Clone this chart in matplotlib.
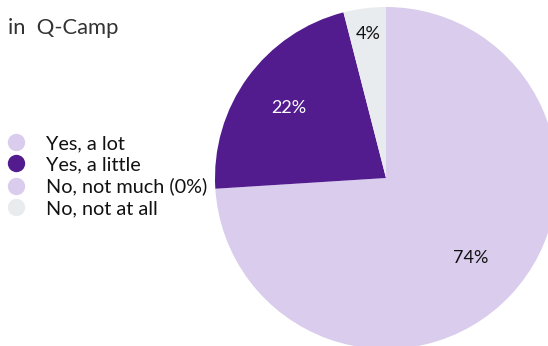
import numpy as np
import matplotlib.pyplot as plt
from matplotlib.lines import Line2D

plt.rcParams['font.family'] = ['Lato', 'DejaVu Sans']

# Data
labels = ['Yes, a lot', 'Yes, a little', 'No, not much (0%)', 'No, not at all']
values = [74, 22, 0, 4]
colors = ['#d9ccec', '#521c8f', '#d9ccec', '#e9ecef']
pct_colors = ['#111111', 'white', '#111111', '#111111']
pct_dist = [0.68, 0.70, 0.7, 0.85]

fig = plt.figure(figsize=(5.48, 3.46), dpi=100)
# pie centre at (386,178) px, radius ~171 px
ax = fig.add_axes([(386 - 171) / 548, (346 - 178 - 171) / 346, 342 / 548, 342 / 346])

wedges, _ = ax.pie(values, colors=colors, startangle=90, counterclock=False,
                   radius=1, wedgeprops=dict(linewidth=0))
ax.set_xlim(-1, 1)
ax.set_ylim(-1, 1)
ax.set_aspect('equal')
ax.axis('off')

for w, v, c, d in zip(wedges, values, pct_colors, pct_dist):
    if v == 0:
        continue
    ang = np.deg2rad((w.theta1 + w.theta2) / 2)
    ax.text(d * np.cos(ang), d * np.sin(ang), f'{v}%', ha='center', va='center',
            fontsize=13, color=c)

fig.text(8 / 548, 1 - 28 / 346, 'in  Q-Camp', fontsize=15.8, color='#333333',
         ha='left', va='center')

handles = [Line2D([], [], marker='o', linestyle='none', markersize=12.5,
                  markerfacecolor=c, markeredgewidth=0) for c in colors]
fig.legend(handles, labels, loc='upper left', bbox_to_anchor=(6 / 548, 1 - 135 / 346),
           frameon=False, fontsize=14.3, labelspacing=0.22, handletextpad=1.0,
           borderaxespad=0, borderpad=0.0, handlelength=1.0, labelcolor='#111111')

fig.savefig('out.png', dpi=100)
